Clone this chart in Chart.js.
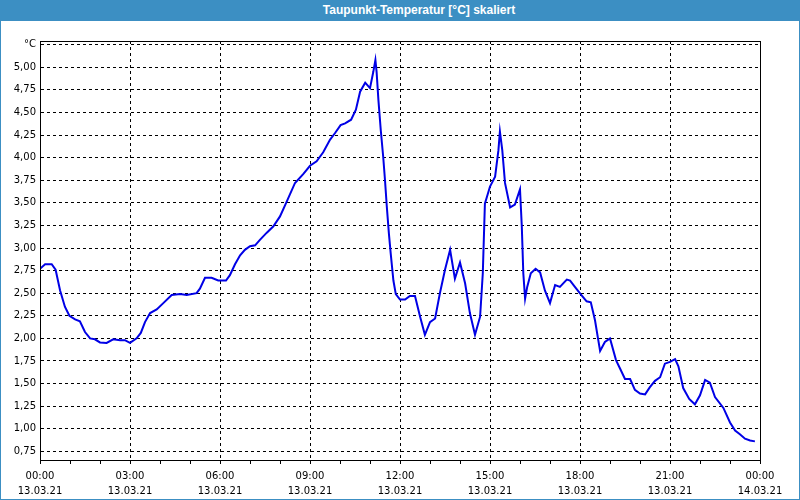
<!DOCTYPE html>
<html>
<head>
<meta charset="utf-8">
<script src="https://cdn.jsdelivr.net/npm/chart.js@4/dist/chart.umd.min.js"></script>
<style>
  html, body { margin: 0; padding: 0; background: #ffffff; }
  #wrap { position: relative; width: 800px; height: 500px; overflow: hidden; background: #ffffff; }
  #frame { position: absolute; left: 0; top: 0; width: 800px; height: 500px; box-sizing: border-box; border: 1px solid #3c8fc3; pointer-events: none; }
  #head { position: absolute; left: 0; top: 0; width: 800px; height: 21px; background: #3c8fc3; color: #ffffff;
          font: bold 12px "Liberation Sans", Arial, sans-serif; line-height: 21px; text-align: center; box-sizing: border-box; padding-left: 38px; }
  canvas { position: absolute; left: 0; top: 0; }
</style>
</head>
<body>
<div id="wrap">
  <canvas id="c" width="800" height="500"></canvas>
  <div id="head">Taupunkt-Temperatur [°C] skaliert</div>
  <div id="frame"></div>
</div>
<script>
// Time in hours since 13.03.21 00:00
const hours = [0.00,0.17,0.39,0.52,0.67,0.83,0.98,1.17,1.33,1.50,1.67,1.83,2.00,2.22,2.44,2.67,2.83,3.00,3.22,3.36,3.50,3.67,3.89,4.11,4.39,4.67,4.89,5.22,5.33,5.50,5.72,5.94,6.20,6.33,6.50,6.67,6.83,7.00,7.17,7.33,7.56,7.78,8.00,8.22,8.50,8.78,9.00,9.22,9.44,9.67,9.83,10.02,10.17,10.37,10.53,10.67,10.84,11.00,11.11,11.18,11.22,11.28,11.36,11.44,11.50,11.56,11.63,11.69,11.78,11.86,12.00,12.17,12.33,12.50,12.67,12.83,13.00,13.17,13.33,13.50,13.67,13.83,14.00,14.17,14.33,14.50,14.67,14.76,14.83,15.00,15.17,15.28,15.33,15.41,15.50,15.67,15.83,16.00,16.06,16.11,16.17,16.24,16.36,16.52,16.67,16.83,17.00,17.17,17.33,17.56,17.67,17.83,18.02,18.22,18.36,18.50,18.59,18.67,18.83,19.00,19.20,19.33,19.50,19.67,19.83,20.00,20.17,20.33,20.50,20.67,20.83,21.00,21.17,21.28,21.44,21.64,21.83,22.00,22.17,22.33,22.50,22.78,23.00,23.17,23.33,23.50,23.67,23.83];
// Dew point temperature, °C
const dewPoint = [2.77,2.82,2.82,2.76,2.53,2.35,2.25,2.21,2.19,2.07,2.00,1.99,1.955,1.95,1.99,1.98,1.98,1.95,2.00,2.06,2.18,2.28,2.32,2.39,2.48,2.49,2.48,2.50,2.55,2.67,2.67,2.64,2.64,2.70,2.82,2.92,2.98,3.02,3.03,3.09,3.17,3.24,3.35,3.51,3.72,3.82,3.91,3.96,4.06,4.20,4.27,4.36,4.38,4.42,4.53,4.73,4.83,4.77,4.95,5.08,4.95,4.64,4.30,4.01,3.75,3.46,3.16,2.94,2.64,2.49,2.43,2.43,2.47,2.47,2.24,2.04,2.18,2.22,2.50,2.76,2.98,2.66,2.84,2.61,2.28,2.04,2.24,2.72,3.49,3.68,3.79,4.08,4.29,4.08,3.72,3.45,3.48,3.65,3.24,2.72,2.44,2.57,2.72,2.77,2.73,2.53,2.39,2.59,2.57,2.65,2.64,2.57,2.49,2.41,2.40,2.20,2.02,1.86,1.96,2.00,1.76,1.67,1.55,1.55,1.43,1.39,1.38,1.46,1.53,1.57,1.72,1.74,1.77,1.69,1.45,1.33,1.27,1.37,1.54,1.51,1.35,1.23,1.07,0.98,0.94,0.89,0.87,0.86];

// Axis tick labels
const yTicks = [0.75,1.00,1.25,1.50,1.75,2.00,2.25,2.50,2.75,3.00,3.25,3.50,3.75,4.00,4.25,4.50,4.75,5.00,5.25];
const yUnitLabel = '°C';
const xTickHours = [0,3,6,9,12,15,18,21,24];
const xTimeLabels = ['00:00','03:00','06:00','09:00','12:00','15:00','18:00','21:00','00:00'];
const xDateLabels = ['13.03.21','13.03.21','13.03.21','13.03.21','13.03.21','13.03.21','13.03.21','13.03.21','14.03.21'];

const points = hours.map((h, i) => ({ x: h, y: dewPoint[i] }));
const tickFont = { family: '"DejaVu Sans", Tahoma, sans-serif', size: 10, lineHeight: 1.5 };

const frame = {
  id: 'frame',
  afterDraw(chart) {
    const a = chart.chartArea, ctx = chart.ctx;
    ctx.save();
    ctx.strokeStyle = '#000';
    ctx.lineWidth = 1;
    ctx.strokeRect(Math.round(a.left) + 0.5, Math.round(a.top) + 0.5, Math.round(a.right - a.left), Math.round(a.bottom - a.top));
    ctx.restore();
  }
};

new Chart(document.getElementById('c'), {
  type: 'line',
  data: {
    datasets: [{
      data: points,
      borderColor: '#0000e6',
      borderWidth: 2,
      pointRadius: 0,
      tension: 0,
      fill: false
    }]
  },
  options: {
    responsive: false,
    animation: false,
    events: [],
    layout: { padding: { left: 0, top: 41, right: 40, bottom: 0 } },
    plugins: { legend: { display: false }, title: { display: false }, tooltip: { enabled: false } },
    scales: {
      x: {
        type: 'linear',
        min: 0,
        max: 24,
        afterBuildTicks(scale) {
          const t = [];
          for (let h = 0; h <= 24; h++) t.push({ value: h });
          scale.ticks = t;
        },
        afterFit(scale) { scale.height = 40; },
        ticks: {
          autoSkip: false,
          maxRotation: 0,
          minRotation: 0,
          padding: 5,
          color: '#000',
          font: tickFont,
          callback(value) {
            const i = xTickHours.indexOf(value);
            return i >= 0 ? [xTimeLabels[i], xDateLabels[i]] : '';
          }
        },
        grid: {
          color: (ctx) => (ctx.tick && ctx.tick.value % 3 === 0) ? '#000' : 'rgba(0,0,0,0)',
          lineWidth: 1,
          drawTicks: true,
          tickLength: 4,
          tickColor: '#000',
          tickWidth: 1,
          tickBorderDash: []
        },
        border: { display: true, color: '#000', width: 1, dash: [3, 3] }
      },
      y: {
        type: 'linear',
        min: 0.654,
        max: 5.291,
        afterBuildTicks(scale) { scale.ticks = yTicks.map(v => ({ value: v })); },
        afterFit(scale) { scale.width = 40; },
        ticks: {
          padding: 4,
          color: '#000',
          font: tickFont,
          callback(value) {
            if (Math.abs(value - 5.25) < 1e-6) return yUnitLabel;
            return value.toFixed(2).replace('.', ',');
          }
        },
        grid: { color: '#000', lineWidth: 1, drawTicks: false },
        border: { display: true, color: '#000', width: 1, dash: [3, 3] }
      }
    }
  },
  plugins: [frame]
});
</script>
</body>
</html>
